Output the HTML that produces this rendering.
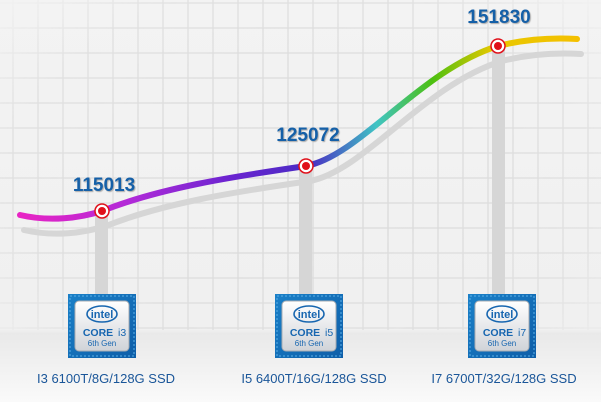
<!DOCTYPE html>
<html><head><meta charset="utf-8"><style>
html,body{margin:0;padding:0;width:601px;height:402px;overflow:hidden;background:#f4f4f4}
</style></head><body>
<svg width="601" height="402" viewBox="0 0 601 402" xmlns="http://www.w3.org/2000/svg" font-family="Liberation Sans, sans-serif">
<defs>
<linearGradient id="bg" x1="0" y1="0" x2="0" y2="1">
<stop offset="0" stop-color="#f3f3f3"/><stop offset="0.82" stop-color="#f0f0f0"/><stop offset="0.83" stop-color="#e9e9e9"/><stop offset="1" stop-color="#fafafa"/>
</linearGradient>
<radialGradient id="gm" cx="0.5" cy="0.45" r="0.65">
<stop offset="0" stop-color="#fff" stop-opacity="1"/><stop offset="0.75" stop-color="#fff" stop-opacity="0.7"/><stop offset="1" stop-color="#fff" stop-opacity="0.1"/>
</radialGradient>
<mask id="mk"><rect width="601" height="402" fill="url(#gm)"/></mask>
<linearGradient id="ln" gradientUnits="userSpaceOnUse" x1="20" y1="0" x2="577" y2="0">
<stop offset="0" stop-color="#e824c4"/>
<stop offset="0.2" stop-color="#b02ad8"/>
<stop offset="0.38" stop-color="#6a24d0"/>
<stop offset="0.52" stop-color="#4a2cc4"/>
<stop offset="0.64" stop-color="#40c4c4"/>
<stop offset="0.74" stop-color="#4cc010"/>
<stop offset="0.85" stop-color="#e8c800"/>
<stop offset="1" stop-color="#f4c000"/>
</linearGradient>
<linearGradient id="chipb" x1="0" y1="0" x2="1" y2="1">
<stop offset="0" stop-color="#1a80c8"/><stop offset="1" stop-color="#0e5ea8"/>
</linearGradient>
<linearGradient id="chips" x1="0" y1="0" x2="0" y2="1">
<stop offset="0" stop-color="#ffffff"/><stop offset="1" stop-color="#d0d3d8"/>
</linearGradient>
<g id="chip">
<rect x="0" y="0" width="68" height="64" fill="url(#chipb)"/>
<rect x="2" y="2" width="64" height="60" fill="none" stroke="#5ab0e8" stroke-width="1" stroke-dasharray="2 2"/>
<rect x="7" y="7" width="54" height="50" rx="4" fill="url(#chips)" stroke="#a8acb2"/>
<ellipse cx="34" cy="20" rx="15" ry="8" fill="none" stroke="#1766b0" stroke-width="1.6"/>
<text x="34" y="24" font-size="11" fill="#1766b0" text-anchor="middle" font-weight="bold">intel</text>
<text x="30" y="42" font-size="10.5" fill="#1766b0" text-anchor="middle" font-weight="bold">CORE</text>
<text x="34" y="52" font-size="8" fill="#1766b0" text-anchor="middle">6th Gen</text>
</g>
</defs>
<rect width="601" height="402" fill="url(#bg)"/>
<g mask="url(#mk)" stroke="#d8d8d8" stroke-width="1.3">
<path d="M13 0V330M38 0V330M63 0V330M88 0V330M113 0V330M138 0V330M163 0V330M188 0V330M213 0V330M238 0V330M263 0V330M288 0V330M313 0V330M338 0V330M363 0V330M388 0V330M413 0V330M438 0V330M463 0V330M488 0V330M513 0V330M538 0V330M563 0V330M588 0V330"/>
<path d="M0 3H601M0 28H601M0 53H601M0 78H601M0 103H601M0 128H601M0 153H601M0 178H601M0 203H601M0 228H601M0 253H601M0 278H601M0 303H601M0 328H601"/>
</g>
<rect x="95" y="214" width="13" height="82" fill="#d6d6d6"/>
<rect x="299" y="170" width="13" height="126" fill="#d6d6d6"/>
<rect x="492" y="50" width="13" height="246" fill="#d6d6d6"/>
<path transform="translate(4,15)" d="M20 215 C50 222 80 218 102 211 C160 188 230 177 306 166 C360 156 420 70 498 46 C530 38 560 38 577 39" fill="none" stroke="#d6d6d6" stroke-width="6" stroke-linecap="round"/>
<path d="M20 215 C50 222 80 218 102 211 C160 188 230 177 306 166 C360 156 420 70 498 46 C530 38 560 38 577 39" fill="none" stroke="url(#ln)" stroke-width="6" stroke-linecap="round"/>
<g fill="#fff" stroke="#e0101a" stroke-width="1.5">
<circle cx="102" cy="211" r="7"/><circle cx="306" cy="166" r="7"/><circle cx="498" cy="46" r="7"/>
</g>
<g fill="#e0101a"><circle cx="102" cy="211" r="4"/><circle cx="306" cy="166" r="4"/><circle cx="498" cy="46" r="4"/></g>
<g font-size="19" font-weight="bold" fill="#1560a8" text-anchor="middle" style="text-shadow:1px 1px 1px #aaa">
<text x="104" y="191">115013</text>
<text x="308" y="141">125072</text>
<text x="499" y="23">151830</text>
</g>
<g transform="translate(68,294)"><use href="#chip"/><text x="50" y="42" font-size="10.5" fill="#1766b0">i3</text></g>
<g transform="translate(275,294)"><use href="#chip"/><text x="50" y="42" font-size="10.5" fill="#1766b0">i5</text></g>
<g transform="translate(468,294)"><use href="#chip"/><text x="50" y="42" font-size="10.5" fill="#1766b0">i7</text></g>
<g font-size="13" fill="#1a5699" text-anchor="middle">
<text x="106" y="383">I3 6100T/8G/128G SSD</text>
<text x="314" y="383">I5 6400T/16G/128G SSD</text>
<text x="504" y="383">I7 6700T/32G/128G SSD</text>
</g>
</svg>
</body></html>
